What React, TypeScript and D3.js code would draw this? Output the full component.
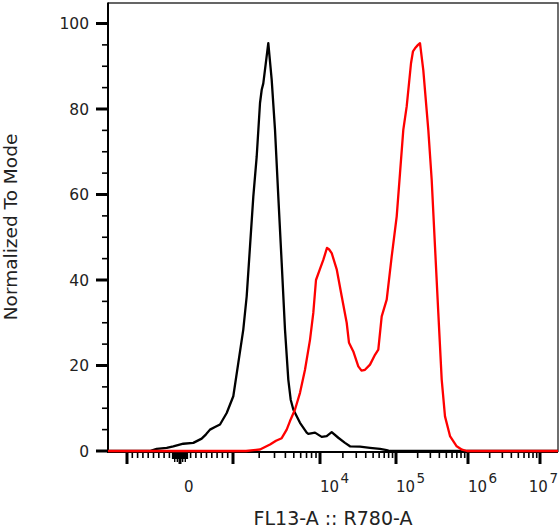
import { useEffect, useRef } from 'react'
import * as d3 from 'd3'

// FL13-A :: R780-A intensity (biex scale) vs normalized-to-mode height
const controlX = [
  -570, -440, -251, -126, 62, 251, 409, 491, 566, 660, 755, 881, 1008, 1151, 1313, 1437, 1568, 1712,
  1873, 2044, 2138, 2230, 2545, 2785, 3040, 3317, 3628, 3960, 4321, 4605, 4934, 5890, 7034, 7338, 8762,
  10530, 12250, 14250, 17410, 21330, 24810, 33600, 45490, 61580, 75450, 83370,
]
const controlY = [
  0, 0.5, 0.75, 1.1, 1.7, 1.9, 2.9, 3.9, 5.0, 5.6, 6.2, 8.9, 12.8, 20.6, 28.4, 36.2, 47.8, 59.5, 68.9,
  81.4, 84.5, 86, 95.4, 86.8, 75.1, 59.5, 44, 28.4, 16.7, 12.0, 9.7, 6.6, 4.3, 4.0, 4.3, 3.3, 3.5, 4.4,
  3.1, 1.9, 1.1, 1.0, 0.75, 0.5, 0.2, 0,
]

const stainedX = [
  1411, 2044, 2663, 3121, 3628, 4142, 4521, 5161, 5890, 6723, 7675, 8375, 8995, 10000, 11050, 12360,
  13130, 14250, 16590, 19300, 22450, 24080, 27430, 31910, 35160, 39090, 45490, 52930, 58500, 64840,
  75450, 87790, 102300, 113700, 126300, 140800, 161600, 172200, 183600, 202100, 215400, 239400, 281000,
  313200, 348100, 386900, 431300, 479200, 562300, 696800, 825400, 968500,
]
const stainedY = [
  0, 0.35, 1.5, 2.4, 3.0, 5.0, 7, 9.7, 13.6, 19, 26, 32.3, 40, 42.6, 44.7, 47.5, 47.2, 46.3, 42.5, 36.2,
  30, 25.3, 23.3, 19.8, 18.8, 19, 20.2, 22.5, 23.7, 31.5, 35.4, 45.5, 54.9, 65, 75.1, 80.6, 90.7, 93.5,
  94.2, 95, 95.4, 89.1, 75.1, 63.4, 47.8, 32.3, 16.7, 8.1, 3.5, 1.1, 0.3, 0,
]

const xMajor = [-1000, 0, 1000, 1e4, 1e5, 1e6, 1e7]
const xLabels = [0, 1e4, 1e5, 1e6, 1e7]
const yMajor = [0, 20, 40, 60, 80, 100]

const W = 560
const H = 531
const plot = { left: 108, right: 558, top: 3, bottom: 451 }
// where the major decades sit along the axis (biex display is not uniform)
const xStops = [127, 180, 233, 320, 396, 468, 540]
const font = '"DejaVu Sans", Verdana, sans-serif'

// linear around zero, log10 beyond +-1000
const biex = (v: number) =>
  v >= 1000 ? 1 + Math.log10(v / 1000) : v <= -1000 ? -1 - Math.log10(-v / 1000) : v / 1000
const biexInv = (t: number) =>
  t >= 1 ? 1000 * Math.pow(10, t - 1) : t <= -1 ? -1000 * Math.pow(10, -t - 1) : t * 1000

export default function App() {
  const ref = useRef<SVGSVGElement>(null)

  useEffect(() => {
    if (!ref.current) return
    const svg = d3.select(ref.current)
    svg.selectAll('*').remove()

    const xt = d3.scaleLinear().domain(xMajor.map(biex)).range(xStops)
    const x = (v: number) => xt(biex(v))
    const y = d3.scaleLinear().domain([0, 100]).range([plot.bottom, 23.5])
    const xMin = biexInv(xt.invert(plot.left))
    const xMax = biexInv(xt.invert(plot.right))

    // frame
    svg
      .append('path')
      .attr('d', `M${plot.left},${plot.top}H${plot.right}V${plot.bottom + 1}`)
      .attr('fill', 'none')
      .attr('stroke', '#333')
      .attr('stroke-width', 1.4)

    // minor x ticks
    const minor: number[] = []
    for (let k = 2; k <= 9; k++) {
      minor.push(k * 100, -k * 100)
    }
    for (let e = 3; e <= 6; e++) {
      for (let k = 2; k <= 9; k++) minor.push(k * Math.pow(10, e))
    }
    const nearZero = d3.range(-140, 141, 10).filter((v) => v !== 0)

    const gx = svg.append('g')
    gx.selectAll('line.minor')
      .data(minor)
      .join('line')
      .attr('x1', (d) => x(d))
      .attr('x2', (d) => x(d))
      .attr('y1', plot.bottom + 1)
      .attr('y2', plot.bottom + 7)
      .attr('stroke', '#000')
      .attr('stroke-width', 1.6)
    gx.selectAll('line.zero')
      .data(nearZero)
      .join('line')
      .attr('x1', (d) => x(d))
      .attr('x2', (d) => x(d))
      .attr('y1', plot.bottom + 1)
      .attr('y2', (d) => plot.bottom + (Math.abs(d) % 50 === 0 ? 11 : 8))
      .attr('stroke', '#000')
      .attr('stroke-width', 1.4)
    gx.selectAll('line.major')
      .data(xMajor)
      .join('line')
      .attr('x1', (d) => x(d))
      .attr('x2', (d) => x(d))
      .attr('y1', plot.bottom + 1)
      .attr('y2', plot.bottom + 13)
      .attr('stroke', '#000')
      .attr('stroke-width', 3)

    // y ticks
    const gy = svg.append('g')
    gy.selectAll('line.minor')
      .data(d3.range(0, 101, 5).filter((v) => v % 20 !== 0))
      .join('line')
      .attr('x1', plot.left - 6)
      .attr('x2', plot.left)
      .attr('y1', (d) => y(d))
      .attr('y2', (d) => y(d))
      .attr('stroke', '#000')
      .attr('stroke-width', 1.6)
    gy.selectAll('line.major')
      .data(yMajor)
      .join('line')
      .attr('x1', plot.left - 12)
      .attr('x2', plot.left)
      .attr('y1', (d) => y(d))
      .attr('y2', (d) => y(d))
      .attr('stroke', '#000')
      .attr('stroke-width', 3)
    gy.selectAll('text')
      .data(yMajor)
      .join('text')
      .attr('x', plot.left - 19)
      .attr('y', (d) => y(d))
      .attr('dy', '0.36em')
      .attr('text-anchor', 'end')
      .attr('font-family', font)
      .attr('font-size', 15.5)
      .attr('fill', '#222')
      .text((d) => d)

    // axis lines
    svg
      .append('line')
      .attr('x1', plot.left)
      .attr('x2', plot.left)
      .attr('y1', plot.top - 0.5)
      .attr('y2', plot.bottom + 2)
      .attr('stroke', '#000')
      .attr('stroke-width', 2)
    svg
      .append('line')
      .attr('x1', plot.left - 1)
      .attr('x2', plot.right)
      .attr('y1', plot.bottom + 1)
      .attr('y2', plot.bottom + 1)
      .attr('stroke', '#000')
      .attr('stroke-width', 2)

    // x labels
    xLabels.forEach((v) => {
      const t = svg
        .append('text')
        .attr('x', x(v) + (v === 0 ? 4 : 0))
        .attr('y', 491.5)
        .attr('font-family', font)
        .attr('font-size', 15)
        .attr('fill', '#222')
      if (v === 0) {
        t.text('0')
      } else {
        t.append('tspan').text('10')
        t.append('tspan')
          .attr('dy', -8.5)
          .attr('font-size', 13.5)
          .attr('dx', 1.5)
          .text(Math.round(Math.log10(v)))
      }
      const node = t.node() as SVGTextElement
      const bb = node.getBBox()
      if (bb.x + bb.width > W - 2) t.attr('x', W - 2 - bb.width)
    })

    // axis titles
    svg
      .append('text')
      .attr('x', (plot.left + plot.right) / 2)
      .attr('y', 525)
      .attr('text-anchor', 'middle')
      .attr('font-family', font)
      .attr('font-size', 19)
      .attr('fill', '#222')
      .text('FL13-A :: R780-A')
    svg
      .append('text')
      .attr('transform', `translate(17,${(plot.top + plot.bottom) / 2}) rotate(-90)`)
      .attr('text-anchor', 'middle')
      .attr('font-family', font)
      .attr('font-size', 18.5)
      .attr('fill', '#222')
      .text('Normalized To Mode')

    // histograms
    const line = d3
      .line<[number, number]>()
      .x((d) => x(d[0]))
      .y((d) => y(d[1]))
      .curve(d3.curveLinear)

    const series = [
      { xs: controlX, ys: controlY, color: '#000' },
      { xs: stainedX, ys: stainedY, color: '#ff0000' },
    ]
    series.forEach((s) => {
      const pts: [number, number][] = [[xMin, 0], ...s.xs.map((v, i) => [v, s.ys[i]] as [number, number]), [xMax, 0]]
      svg
        .append('path')
        .attr('d', line(pts))
        .attr('fill', 'none')
        .attr('stroke', s.color)
        .attr('stroke-width', 2.3)
        .attr('stroke-linejoin', 'round')
    })
  }, [])

  return <svg ref={ref} width={W} height={H} style={{ position: 'absolute', left: 0, top: 0, background: '#fff' }} />
}
